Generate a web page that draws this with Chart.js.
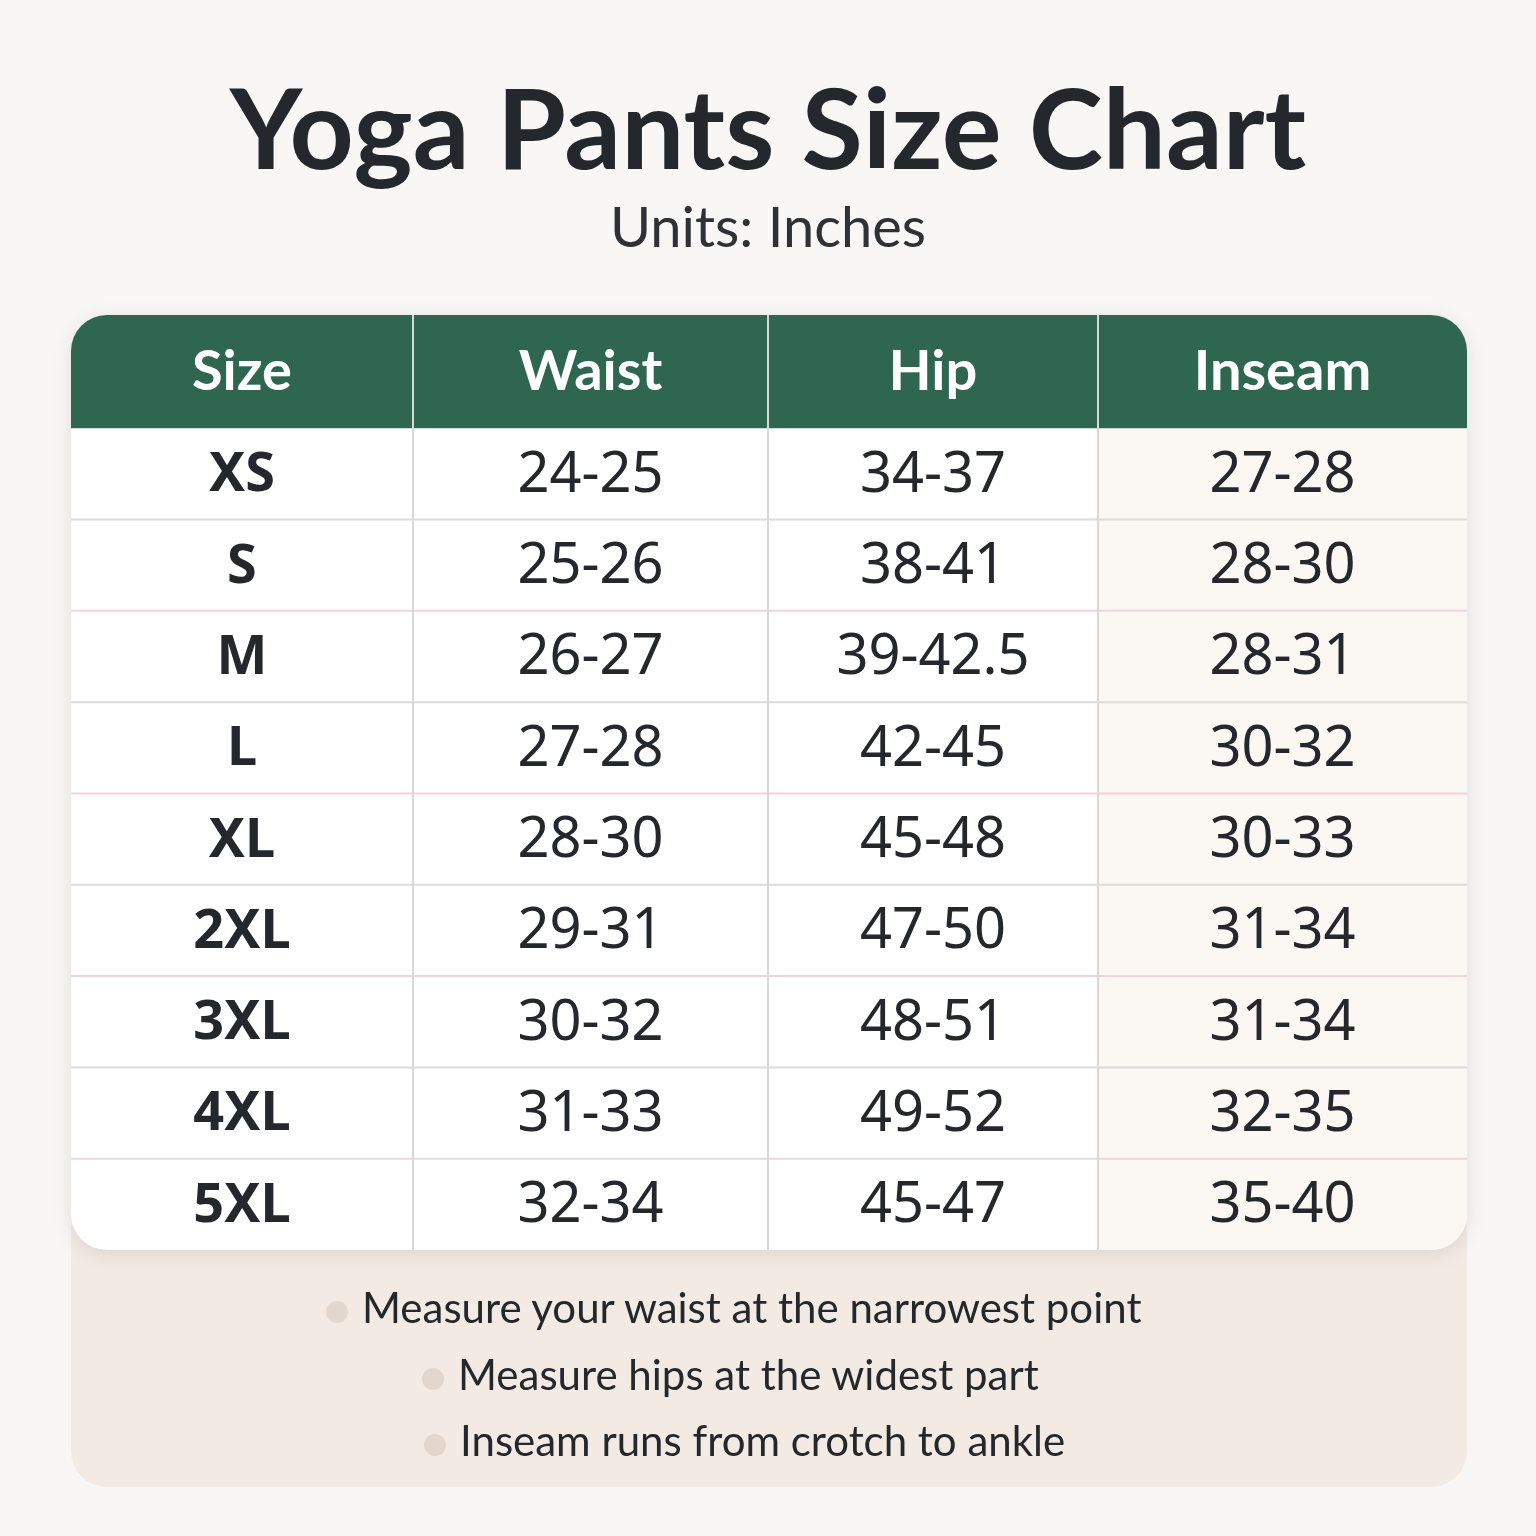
<!DOCTYPE html>
<html><head><meta charset="utf-8">
<script src="https://cdn.jsdelivr.net/npm/chart.js@4"></script>
<style>
html,body{margin:0;padding:0;background:#f8f7f6;}
#wrap{position:relative;width:1536px;height:1536px;}
#notes{position:absolute;left:71px;top:1225px;width:1396px;height:262px;background:#f3ebe3;border-radius:0 0 36px 36px;}
canvas{position:absolute;left:0;top:0;}
.t{position:absolute;left:0;width:1536px;text-align:center;font-family:"Lato","Noto Sans",sans-serif;color:#24282d;}
.n{position:absolute;font-family:"Lato","Noto Sans",sans-serif;font-size:42px;color:#24282d;}
.n:before{content:"";display:inline-block;width:22px;height:22px;border-radius:50%;background:#e3d6cc;margin-right:14px;vertical-align:middle;}
</style></head><body>
<div id="wrap">
<div id="notes"></div>
<canvas id="c" width="1536" height="1536"></canvas>
<div class="t" style="top:58px;font-size:112px;font-weight:700;">Yoga Pants Size Chart</div>
<div class="t" style="top:192px;font-size:56px;color:#2e3236;">Units: Inches</div>
<div class="n" style="left:326px;top:1282px;">Measure your waist at the narrowest point</div>
<div class="n" style="left:422px;top:1349px;">Measure hips at the widest part</div>
<div class="n" style="left:424px;top:1415px;">Inseam runs from crotch to ankle</div>
</div>
<script>
const headers = ["Size","Waist","Hip","Inseam"];
const sizes = ["XS","S","M","L","XL","2XL","3XL","4XL","5XL"];
const waist = ["24-25","25-26","26-27","27-28","28-30","29-31","30-32","31-33","32-34"];
const hip = ["34-37","38-41","39-42.5","42-45","45-48","47-50","48-51","49-52","45-47"];
const inseam = ["27-28","28-30","28-31","30-32","30-33","31-34","31-34","32-35","35-40"];
const colEdges = [0, 342, 697, 1027, 1396];
const headerH = 1.24;

const columns = [sizes, waist, hip, inseam];
const tablePlugin = {
  id:'table',
  afterDraw(chart){
    const {ctx, scales:{x,y}} = chart;
    const L=x.getPixelForValue(0), R=x.getPixelForValue(1396);
    const T=y.getPixelForValue(0), B=y.getPixelForValue(headerH+sizes.length);
    const r=36;
    ctx.save();
    ctx.shadowColor='rgba(0,0,0,0.10)'; ctx.shadowBlur=20; ctx.shadowOffsetY=4;
    ctx.beginPath(); ctx.roundRect(L,T,R-L,B-T,r); ctx.fillStyle='#ffffff'; ctx.fill();
    ctx.restore();
    ctx.save();
    ctx.beginPath(); ctx.roundRect(L,T,R-L,B-T,r); ctx.clip();
    // inseam tint
    ctx.fillStyle='#fbf7f3';
    ctx.fillRect(x.getPixelForValue(colEdges[3]),T,R-x.getPixelForValue(colEdges[3]),B-T);
    // header
    const hb=y.getPixelForValue(headerH);
    ctx.fillStyle='#2e6650'; ctx.fillRect(L,T,R-L,hb-T);
    // row lines
    for(let i=1;i<sizes.length;i++){
      const py=y.getPixelForValue(headerH+i);
      ctx.strokeStyle=(i%2===0)?'#f2d3dd':'#dcdcdc'; ctx.lineWidth=2;
      ctx.beginPath(); ctx.moveTo(L,py); ctx.lineTo(R,py); ctx.stroke();
    }
    // col lines
    for(let c=1;c<4;c++){
      const px=x.getPixelForValue(colEdges[c]);
      ctx.strokeStyle='#d8d8d8'; ctx.lineWidth=2;
      ctx.beginPath(); ctx.moveTo(px,T); ctx.lineTo(px,B); ctx.stroke();
    }
    ctx.textAlign='center'; ctx.textBaseline='middle';
    for(let c=0;c<4;c++){
      const cx=x.getPixelForValue((colEdges[c]+colEdges[c+1])/2);
      ctx.fillStyle='#ffffff'; ctx.font='700 56px Lato, "Noto Sans", sans-serif';
      ctx.fillText(headers[c],cx,y.getPixelForValue(headerH/2));
      for(let i=0;i<sizes.length;i++){
        ctx.fillStyle='#24282d';
        ctx.font=(c===0?'700 54px':'400 56px')+' "Noto Sans", sans-serif';
        ctx.fillText(columns[c][i],cx,y.getPixelForValue(headerH+i+0.5)+2);
      }
    }
    ctx.restore();
  }
};
new Chart(document.getElementById('c'),{
  type:'scatter',
  data:{datasets:[{data:[]}]},
  options:{
    responsive:false, animation:false,
    layout:{padding:{left:71,right:69,top:315,bottom:286}},
    plugins:{legend:{display:false},tooltip:{enabled:false}},
    scales:{
      x:{type:'linear',min:0,max:1396,display:false},
      y:{type:'linear',min:0,max:headerH+sizes.length,reverse:true,display:false}
    }
  },
  plugins:[tablePlugin]
});
</script>
</body></html>
